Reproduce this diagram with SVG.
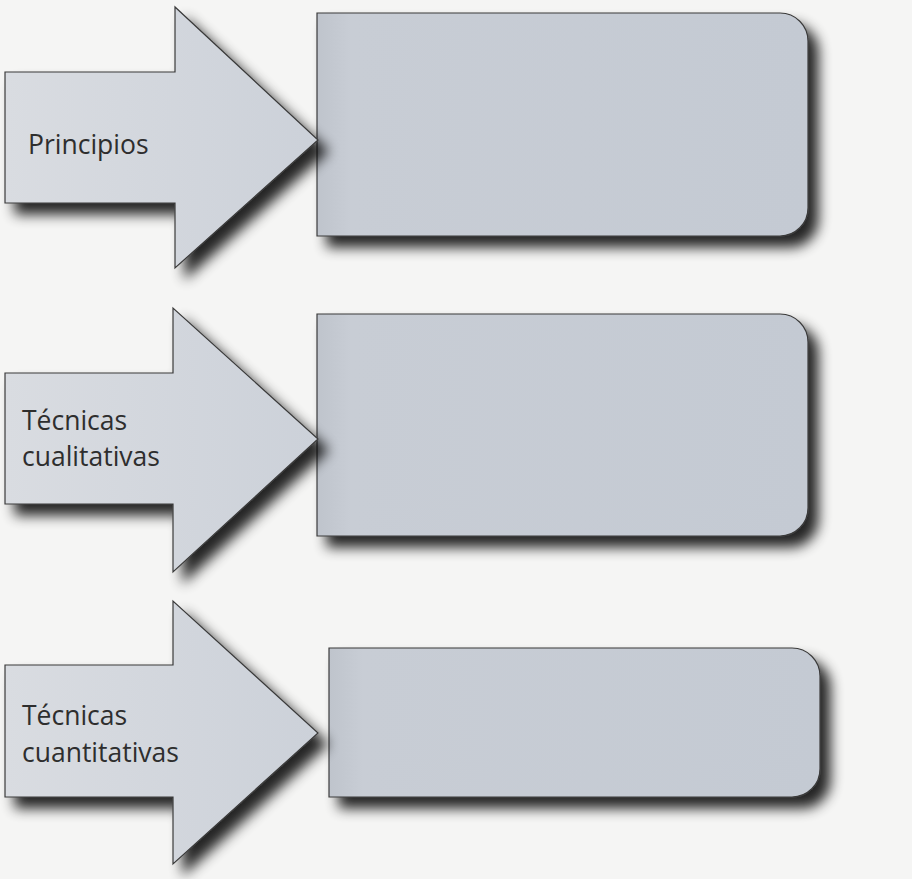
<svg xmlns="http://www.w3.org/2000/svg" width="912" height="879" viewBox="0 0 912 879">
  <style>
    .arrow { fill: url(#arrowFill); stroke: #3a3a3a; stroke-width: 1.2; filter: url(#shadow); }
    .box { fill: url(#boxFill); stroke: #3a3a3a; stroke-width: 1.2; filter: url(#shadow); }
    .label { font-family: "Open Sans", "Liberation Sans", sans-serif; font-size: 26.5px; fill: #2e2e2e; }
  </style>
  <defs>
    <linearGradient id="arrowFill" x1="0" y1="0" x2="1" y2="0">
      <stop offset="0" stop-color="#d9dce1"/>
      <stop offset="1" stop-color="#ccd1d9"/>
    </linearGradient>
    <linearGradient id="boxFill" x1="0" y1="0" x2="1" y2="0">
      <stop offset="0" stop-color="#bfc4cc"/>
      <stop offset="0.07" stop-color="#c8cdd5"/>
      <stop offset="1" stop-color="#c4cad3"/>
    </linearGradient>
    <filter id="shadow" x="-10%" y="-10%" width="125%" height="135%">
      <feGaussianBlur in="SourceAlpha" stdDeviation="6.5"/>
      <feOffset dx="10" dy="11" result="blur"/>
      <feComponentTransfer><feFuncA type="linear" slope="0.85"/></feComponentTransfer>
      <feMerge><feMergeNode/><feMergeNode in="SourceGraphic"/></feMerge>
    </filter>
  </defs>
  <rect width="912" height="879" fill="#f5f5f4"/>

  <g id="connectors"></g>

  <g id="box1">
    <path class="box" d="M317,13 H780 A28,28 0 0 1 808,41 V208 A28,28 0 0 1 780,236 H317 Z"/>
  </g>
  <g id="box2">
    <path class="box" d="M317,314 H780 A28,28 0 0 1 808,342 V508 A28,28 0 0 1 780,536 H317 Z"/>
  </g>
  <g id="box3">
    <path class="box" d="M329,648 H792 A28,28 0 0 1 820,676 V769 A28,28 0 0 1 792,797 H329 Z"/>
  </g>

  <g id="arrow1">
    <path class="arrow" d="M5,72 H175 V7 L318,140 L175,268 V203 H5 Z"/>
    <text class="label" x="28" y="154">Principios</text>
  </g>
  <g id="arrow2">
    <path class="arrow" d="M5,373 H173 V308 L318,439 L173,572 V504 H5 Z"/>
    <text class="label" x="22" y="430">Técnicas</text>
    <text class="label" x="22" y="466">cualitativas</text>
  </g>
  <g id="arrow3">
    <path class="arrow" d="M5,665 H173 V601 L318,733 L173,864 V797 H5 Z"/>
    <text class="label" x="22" y="725">Técnicas</text>
    <text class="label" x="22" y="762">cuantitativas</text>
  </g>
</svg>
